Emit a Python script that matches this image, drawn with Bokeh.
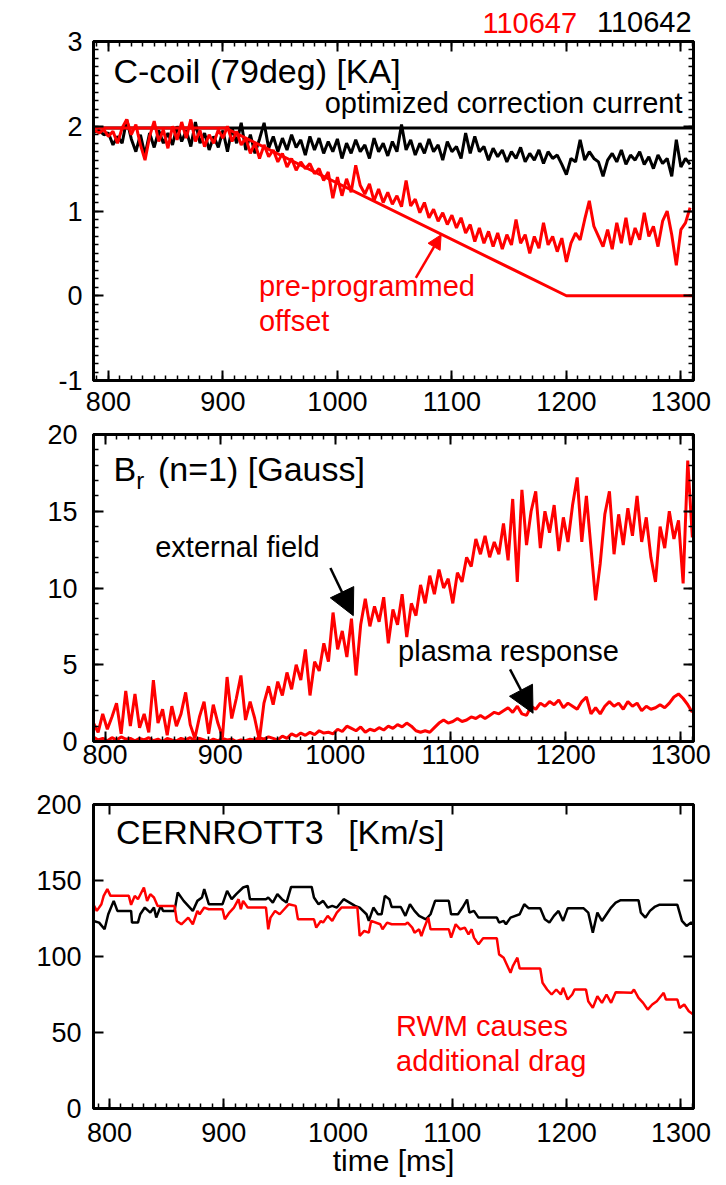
import numpy as np
from bokeh.plotting import figure
from bokeh.layouts import column
from bokeh.models import Range1d, LinearAxis, SingleIntervalTicker, FixedTicker, Label, Arrow, NormalHead
from bokeh.embed import file_html
from bokeh.resources import INLINE

FONT = "Liberation Sans"
RED = "#ff0000"

# ---------------- Panel 1: C-coil (79deg) [KA] ----------------
shot_labels = ["110647", "110642"]
ccoil_t0, ccoil_dt = 788, 4
ccoil_642 = [1.93, 1.95, 1.90, 1.92, 1.78, 1.88, 1.80, 2.08, 1.85, 1.70,
             1.90, 1.66, 1.92, 1.75, 1.95, 1.80, 1.92, 1.78, 2.00, 1.82,
             1.95, 1.76, 2.05, 1.80, 1.92, 1.72, 1.88, 1.75, 1.95, 1.70,
             1.98, 1.80, 2.04, 1.72, 1.90, 1.68, 1.85, 2.04, 1.74, 1.88,
             1.70, 1.86, 1.72, 1.90, 1.75, 1.84, 1.66, 1.88, 1.72, 1.86,
             1.68, 1.82, 1.70, 1.85, 1.62, 1.80, 1.68, 1.84, 1.70, 1.78,
             1.62, 1.86, 1.70, 1.80, 1.65, 1.82, 1.70, 2.02, 1.72, 1.84,
             1.66, 1.80, 1.68, 1.85, 1.70, 1.78, 1.60, 1.82, 1.70, 1.76,
             1.62, 1.92, 1.68, 1.88, 1.70, 1.76, 1.60, 1.74, 1.64, 1.72,
             1.58, 1.70, 1.62, 1.75, 1.58, 1.68, 1.60, 1.72, 1.56, 1.70,
             1.62, 1.66, 1.55, 1.43, 1.62, 1.58, 1.84, 1.60, 1.70, 1.62,
             1.58, 1.41, 1.60, 1.68, 1.58, 1.72, 1.55, 1.66, 1.60, 1.70,
             1.55, 1.64, 1.50, 1.66, 1.56, 1.62, 1.41, 1.84, 1.52, 1.62,
             1.55]
ccoil_647 = [1.95, 1.92, 1.96, 1.88, 1.94, 1.80, 1.98, 2.08, 1.90, 2.02,
             1.78, 1.60, 1.88, 2.06, 1.82, 1.96, 1.74, 2.00, 1.84, 2.05,
             1.86, 2.08, 1.82, 1.95, 1.76, 1.90, 1.80, 1.96, 1.86, 2.00,
             1.82, 1.94, 1.78, 1.86, 1.68, 1.80, 1.62, 1.78, 1.64, 1.72,
             1.58, 1.68, 1.52, 1.62, 1.48, 1.58, 1.50, 1.56, 1.44, 1.50,
             1.36, 1.46, 1.15, 1.40, 1.18, 1.38, 1.22, 1.54, 1.30, 1.20,
             1.32, 1.12, 1.26, 1.10, 1.22, 1.08, 1.18, 1.05, 1.36, 1.06,
             1.14, 0.98, 1.10, 0.92, 1.02, 0.88, 0.98, 0.84, 0.95, 0.80,
             0.92, 0.74, 0.84, 0.64, 0.80, 0.62, 0.76, 0.58, 0.74, 0.55,
             0.72, 0.60, 0.90, 0.62, 0.72, 0.50, 0.70, 0.56, 0.86, 0.60,
             0.70, 0.52, 0.68, 0.40, 0.62, 0.74, 0.66, 0.90, 1.12, 0.82,
             0.70, 0.58, 0.78, 0.55, 0.86, 0.62, 0.92, 0.60, 0.80, 0.66,
             0.98, 0.70, 0.82, 0.58, 0.88, 1.00, 0.72, 0.36, 0.78, 0.86,
             1.04]
optimized_t = [787, 1311]
optimized_v = [1.98, 1.98]
offset_t = [787, 902, 1200, 1311]
offset_v = [1.98, 1.98, 0.0, 0.0]

# ---------------- Panel 2: Br (n=1) [Gauss] ----------------
br_t0, br_dt = 790, 4
br_external = [1.2, 0.6, 1.8, 0.8, 1.6, 2.5, 0.5, 3.3, 1.0, 3.1,
               0.9, 1.8, 0.6, 4.0, 1.2, 2.1, 0.4, 2.3, 1.0, 1.8,
               3.2, 1.1, 0.2, 1.6, 2.6, 0.5, 2.4, 1.2, 0.3, 4.2,
               1.5, 2.8, 4.3, 1.4, 2.6, 1.5, 0.1, 2.5, 3.6, 2.4,
               3.9, 3.0, 4.5, 3.4, 5.0, 4.0, 6.0, 3.0, 5.2, 4.6,
               6.4, 5.2, 8.4, 6.0, 7.2, 5.5, 8.0, 4.3, 7.6, 9.3,
               7.5, 8.8, 7.8, 9.4, 6.4, 8.6, 7.6, 9.6, 6.8, 9.0,
               8.2, 10.2, 9.0, 10.8, 9.6, 11.2, 10.0, 10.6, 9.0, 11.0,
               10.4, 12.0, 11.4, 13.2, 12.2, 13.4, 12.0, 13.0, 12.2, 14.2,
               11.8, 15.8, 10.4, 16.4, 12.8, 15.0, 16.3, 12.6, 15.0, 13.6,
               15.4, 12.4, 14.6, 13.0, 15.4, 17.2, 13.0, 16.0, 12.6, 9.2,
               11.6, 14.8, 16.3, 12.2, 14.8, 12.8, 15.2, 13.4, 16.0, 13.0,
               14.6, 12.0, 10.4, 14.0, 12.6, 15.0, 13.2, 14.4, 10.3, 18.3,
               13.3]
br_plasma = [0.30, 0.10, 0.20, 0.05, 0.25, 0.10, 0.30, 0.15, 0.20, 0.05,
             0.20, 0.10, 0.25, 0.05, 0.15, 0.00, 0.20, 0.10, 0.05, 0.20,
             0.10, 0.25, 0.05, 0.20, 0.10, 0.00, 0.15, 0.05, 0.20, 0.10,
             0.15, 0.00, 0.10, 0.05, 0.15, 0.10, 0.25, 0.15, 0.30, 0.20,
             0.10, 0.35, 0.20, 0.50, 0.35, 0.55, 0.40, 0.60, 0.45, 0.70,
             0.55, 0.60, 0.50, 0.80, 0.65, 1.00, 0.85, 0.70, 0.95, 0.60,
             0.80, 0.70, 0.90, 0.75, 1.00, 0.85, 1.10, 0.95, 1.20, 1.00,
             0.70, 0.60, 0.70, 0.60, 0.90, 1.20, 1.40, 1.20, 1.30, 1.50,
             1.30, 1.40, 1.60, 1.50, 1.70, 1.50, 1.70, 1.90, 1.80, 2.00,
             2.20, 1.90, 2.30, 1.80, 1.70, 2.30, 2.10, 2.50, 2.30, 2.60,
             2.40, 2.70, 2.20, 2.50, 2.30, 2.10, 2.60, 2.90, 1.80, 2.20,
             1.80, 2.30, 2.60, 2.30, 2.50, 2.10, 2.60, 2.30, 2.50, 2.00,
             2.30, 2.10, 2.20, 2.40, 2.20, 2.50, 2.90, 3.10, 2.80, 2.40,
             1.90]

# ---------------- Panel 3: CERNROTT3 [Km/s] ----------------
rot642_t = [786, 790.9, 795.7, 798.9, 803.7, 806.9, 818.9, 819.7, 824.9, 826.9,
            830.9, 835.7, 838.9, 840.9, 844.9, 846.9, 856.9, 859.7, 864.9, 868.9,
            872.9, 876.9, 880.9, 882.9, 886.9, 898.9, 902.9, 906.9, 910.9, 916.9,
            920.9, 922.9, 936.9, 938.9, 942.9, 946.9, 950.9, 954.9, 958.9, 976.9,
            978.9, 982.9, 986.9, 990.9, 994.9, 998.9, 1004.9, 1014.9, 1018.9, 1024.9,
            1026.9, 1030.9, 1034.9, 1038.1, 1040.9, 1044.9, 1046.9, 1054.9, 1058.9, 1062.9,
            1066.9, 1070.9, 1076.9, 1080.9, 1084.9, 1096.9, 1098.9, 1104.9, 1108.9, 1112.9,
            1114.9, 1118.9, 1122.9, 1138.9, 1140.9, 1144.9, 1146.9, 1150.9, 1158.9, 1162.9,
            1166.9, 1176.9, 1180.9, 1184.9, 1188.9, 1192.9, 1196.9, 1200.9, 1214.9, 1218.9,
            1222.9, 1226.9, 1230.9, 1234.9, 1238.9, 1242.9, 1246.9, 1262.9, 1264.9, 1268.9,
            1272.9, 1276.9, 1280.9, 1296.9, 1300.9, 1304.9, 1308.9, 1310.9]
rot642_v = [123.4, 122.3, 117.9, 127.8, 136.6, 130.0, 130.0, 122.3, 122.3, 127.8,
            132.2, 128.9, 132.2, 125.6, 133.3, 130.0, 130.0, 142.1, 136.6, 133.3,
            130.0, 136.6, 138.8, 144.3, 134.4, 134.4, 143.2, 137.7, 141.0, 145.4,
            146.5, 137.7, 137.7, 138.8, 135.5, 141.0, 137.7, 135.5, 145.8, 145.8,
            138.8, 134.4, 136.6, 132.2, 133.3, 132.2, 137.7, 133.3, 132.2, 127.8,
            123.4, 132.2, 127.8, 127.8, 139.9, 137.7, 132.6, 132.6, 126.7, 134.4,
            130.0, 126.7, 124.5, 127.8, 136.6, 136.6, 127.8, 127.8, 132.2, 137.5,
            128.9, 130.0, 125.6, 125.6, 122.3, 123.4, 121.2, 125.6, 127.8, 134.4,
            131.7, 131.7, 124.5, 122.3, 126.7, 130.0, 123.4, 131.7, 131.7, 128.9,
            115.7, 128.9, 123.4, 127.8, 132.2, 135.5, 137.0, 137.0, 128.9, 125.6,
            130.0, 132.6, 134.0, 134.0, 123.4, 120.1, 122.3, 121.2]
rot647_t = [785.7, 788.9, 792.9, 794.9, 798.1, 800.9, 816.9, 818.9, 822.1, 824.9,
            830.1, 832.9, 835.7, 838.9, 842.1, 856.9, 858.9, 862.9, 868.9, 872.9,
            876.9, 878.9, 882.9, 886.9, 898.9, 900.9, 904.9, 908.9, 912.9, 914.9,
            916.9, 920.9, 936.9, 938.9, 940.9, 944.9, 948.9, 952.9, 956.9, 962.9,
            964.9, 978.9, 980.9, 984.9, 986.9, 990.9, 994.9, 998.9, 1002.9, 1016.9,
            1018.9, 1022.9, 1026.9, 1028.9, 1036.9, 1038.9, 1042.9, 1046.9, 1058.9, 1060.9,
            1064.9, 1066.9, 1070.9, 1072.9, 1074.9, 1078.9, 1080.9, 1096.9, 1098.9, 1102.9,
            1106.9, 1110.9, 1114.1, 1116.9, 1118.9, 1122.9, 1126.9, 1138.9, 1140.9, 1144.9,
            1148.9, 1150.9, 1152.9, 1156.9, 1158.9, 1176.9, 1178.9, 1182.9, 1186.9, 1190.9,
            1194.9, 1196.9, 1200.9, 1204.9, 1206.9, 1216.9, 1218.9, 1222.9, 1226.9, 1230.9,
            1234.9, 1238.9, 1242.9, 1256.9, 1258.9, 1262.9, 1266.9, 1270.9, 1274.9, 1278.9,
            1284.9, 1286.9, 1296.9, 1298.9, 1302.9, 1306.9, 1310.9]
rot647_v = [134.4, 130.0, 134.4, 139.9, 144.3, 139.9, 139.9, 134.0, 139.9, 137.7,
            145.4, 136.6, 141.0, 138.8, 133.3, 133.3, 123.4, 121.2, 125.6, 121.2,
            130.0, 127.8, 132.2, 131.1, 131.1, 124.5, 128.9, 132.2, 137.7, 131.1,
            136.6, 132.2, 132.2, 117.9, 125.6, 130.0, 127.8, 131.1, 134.4, 133.3,
            124.5, 124.5, 119.0, 123.4, 122.3, 126.7, 123.4, 128.9, 132.2, 132.2,
            113.5, 116.8, 115.7, 123.4, 121.2, 117.9, 122.3, 121.2, 121.2, 122.3,
            119.0, 115.7, 117.9, 113.5, 117.9, 125.6, 117.9, 117.9, 112.4, 121.2,
            117.9, 119.0, 114.6, 117.9, 112.4, 108.0, 112.0, 112.0, 101.4, 99.2,
            92.6, 89.3, 93.7, 99.2, 92.1, 92.1, 82.7, 78.3, 75.0, 78.3,
            75.0, 79.4, 71.7, 75.0, 78.3, 78.3, 70.6, 66.2, 73.9, 69.5,
            75.0, 69.5, 76.5, 76.1, 78.3, 72.8, 69.5, 65.1, 68.4, 70.6,
            76.1, 71.7, 71.7, 66.2, 68.4, 64.0, 61.8]


def style_axis(ax, interval, nminor, minor=True, labels=True, standoff=4):
    ax.ticker = SingleIntervalTicker(interval=interval, num_minor_ticks=nminor)
    ax.axis_line_color = "black"
    ax.axis_line_width = 3
    ax.major_tick_in = 10
    ax.major_tick_out = 0
    ax.major_tick_line_width = 2
    ax.major_tick_line_color = "black"
    ax.minor_tick_in = 5
    ax.minor_tick_out = 0
    ax.minor_tick_line_width = 1.5
    ax.minor_tick_line_color = "black" if minor else None
    ax.major_label_text_font = FONT
    ax.major_label_text_color = "black"
    if labels:
        ax.major_label_text_font_size = "27px"
        ax.major_label_standoff = standoff
    else:
        ax.major_label_text_font_size = "0px"
        ax.major_label_standoff = 0
        ax.major_label_text_color = None


def make_fig(height, xr, yr, left, right, top, bottom):
    p = figure(width=726, height=height, x_range=Range1d(*xr), y_range=Range1d(*yr),
               output_backend="svg", toolbar_location=None,
               min_border_left=left, min_border_right=right,
               min_border_top=top, min_border_bottom=bottom,
               background_fill_color="white", border_fill_color="white")
    p.xgrid.visible = False
    p.ygrid.visible = False
    p.outline_line_color = "black"
    p.outline_line_width = 3
    return p


def add_axes(p, xint, xminor, yint, yminor, x_std, y_std, x_minor_top=True, y_minor=True):
    bottom = p.below[0]
    left = p.left[0]
    style_axis(bottom, xint, xminor, minor=True, labels=True, standoff=x_std)
    style_axis(left, yint, yminor, minor=y_minor, labels=True, standoff=y_std)
    top = LinearAxis()
    p.add_layout(top, "above")
    style_axis(top, xint, xminor, minor=x_minor_top, labels=False)
    right = LinearAxis()
    p.add_layout(right, "right")
    style_axis(right, yint, yminor, minor=y_minor, labels=False)
    return bottom, left


def text_axis(p, pos, label, color, standoff):
    ax = LinearAxis(ticker=FixedTicker(ticks=[pos]), major_label_overrides={pos: label})
    ax.axis_line_color = None
    ax.major_tick_line_color = None
    ax.minor_tick_line_color = None
    ax.major_tick_in = 0
    ax.major_tick_out = 0
    ax.major_label_text_font = FONT
    ax.major_label_text_font_size = "29px"
    ax.major_label_text_color = color
    ax.major_label_standoff = standoff
    p.add_layout(ax, "above")
    return ax


def txt(p, x, y, s, size, color="black", align="left"):
    p.add_layout(Label(x=x, y=y, text=s, text_font=FONT, text_font_size=f"{size}px",
                       text_color=color, text_align=align, text_baseline="middle"))


# ---------------- Panel 1 ----------------
p1 = make_fig(418, (787, 1311), (-1, 3), 91, 33, 41, 38)
b1, l1 = add_axes(p1, 100, 10, 1, 10, x_std=11, y_std=11)
l1.major_label_overrides = {-1: "-1"}
# shot numbers above the frame, on one line
text_axis(p1, 1168, shot_labels[0], RED, 9)
text_axis(p1, 1268, shot_labels[1], "black", -22)
t642 = ccoil_t0 + ccoil_dt * np.arange(len(ccoil_642))
t647 = ccoil_t0 + ccoil_dt * np.arange(len(ccoil_647))
p1.line(optimized_t, optimized_v, line_color="black", line_width=3)
p1.line(t642, ccoil_642, line_color="black", line_width=3)
p1.line(t647, ccoil_647, line_color=RED, line_width=3)
p1.line(offset_t, offset_v, line_color=RED, line_width=3)
txt(p1, 804.4, 2.654, "C-coil (79deg) [KA]", 34)
txt(p1, 1301.4, 2.279, "optimized correction current", 29, align="right")
txt(p1, 931.5, 0.111, "pre-programmed", 29, color=RED)
txt(p1, 931.5, -0.302, "offset", 29, color=RED)
p1.add_layout(Arrow(end=NormalHead(size=14, fill_color=RED, line_color=RED, line_width=1),
                    x_start=1068.5, y_start=0.21, x_end=1090.6, y_end=0.72,
                    line_color=RED, line_width=2.5))

# ---------------- Panel 2 ----------------
p2 = make_fig(362, (790, 1311), (0, 20), 93, 30, 16, 39)
b2, l2 = add_axes(p2, 100, 10, 5, 5, x_std=3, y_std=16)
tb = br_t0 + br_dt * np.arange(len(br_external))
tp = br_t0 + br_dt * np.arange(len(br_plasma))
p2.line(tb, br_external, line_color=RED, line_width=3)
p2.line(tp, br_plasma, line_color=RED, line_width=3)
txt(p2, 807.3, 17.74, "B", 34)
txt(p2, 827.2, 16.99, "r", 24)
txt(p2, 846.0, 17.74, "(n=1) [Gauss]", 34)
txt(p2, 843.6, 12.70, "external field", 29)
txt(p2, 1054.5, 5.90, "plasma response", 29)
p2.add_layout(Arrow(end=NormalHead(size=26, fill_color="black", line_color="black", line_width=1),
                    x_start=995.7, y_start=11.3, x_end=1015.6, y_end=8.2,
                    line_color="black", line_width=2.5))
p2.add_layout(Arrow(end=NormalHead(size=26, fill_color="black", line_color="black", line_width=1),
                    x_start=1151.7, y_start=4.7, x_end=1171.7, y_end=1.84,
                    line_color="black", line_width=2.5))

# ---------------- Panel 3 ----------------
p3 = make_fig(405, (786, 1311), (0, 200), 87, 31, 24, 77)
b3, l3 = add_axes(p3, 100, 10, 50, 5, x_std=14, y_std=12, x_minor_top=False, y_minor=False)
b3.axis_label = "time [ms]"
b3.axis_label_text_font = FONT
b3.axis_label_text_font_size = "30px"
b3.axis_label_text_font_style = "normal"
b3.axis_label_text_color = "black"
b3.axis_label_standoff = -1
p3.line(rot642_t, rot642_v, line_color="black", line_width=2.5)
p3.line(rot647_t, rot647_v, line_color=RED, line_width=2.5)
txt(p3, 805.6, 181.8, "CERNROTT3", 34)
txt(p3, 1008.8, 181.8, "[Km/s]", 34)
txt(p3, 1050.7, 54.1, "RWM causes", 29, color=RED)
txt(p3, 1050.7, 31.5, "additional drag", 29, color=RED)

layout = column(p1, p2, p3, spacing=0)
open("out.html", "w").write(file_html(layout, INLINE, "plot"))
